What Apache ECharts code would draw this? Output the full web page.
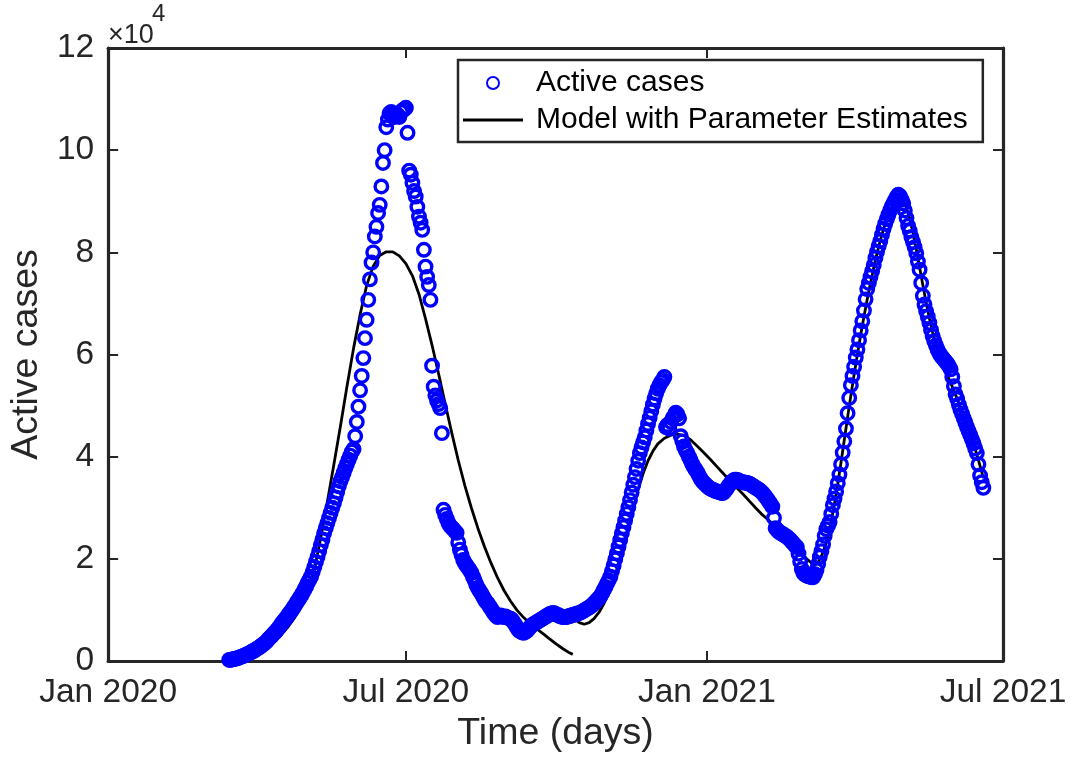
<!DOCTYPE html>
<html>
<head>
<meta charset="utf-8">
<script src="https://cdn.jsdelivr.net/npm/echarts@6/dist/echarts.min.js"></script>
<style>
  html, body { margin: 0; padding: 0; background: #fff; }
  #chart { width: 1081px; height: 761px; }
</style>
</head>
<body>
<div id="chart"></div>
<script>
// ---------------- data ----------------
// x positions are days counted from 2020-01-01
const originDate = '2020-01-01';
const tickDates = ['2020-01-01', '2020-07-01', '2021-01-01', '2021-07-01'];
const tickLabels = ['Jan 2020', 'Jul 2020', 'Jan 2021', 'Jul 2021'];
const axisEndDate = '2021-07-01';

// daily observed active cases, first value on 2020-03-15
const activeStartDate = '2020-03-15';
const activeCases = [
  200, 250, 300, 400, 450, 550, 650, 800, 900, 1050,
  1200, 1350, 1500, 1650, 1850, 2000, 2200, 2400, 2600, 2800,
  3100, 3300, 3600, 3900, 4300, 4600, 4900, 5300, 5600, 6000,
  6400, 6800, 7300, 7700, 8100, 8500, 9000, 9400, 9800, 10300,
  10800, 11300, 11800, 12300, 12800, 13400, 14000, 14600, 15300, 15900,
  16500, 17400, 18400, 19400, 20400, 21500, 22700, 23800, 25000, 26000,
  27000, 28000, 29000, 30000, 30900, 32000, 33100, 34200, 35200, 36000,
  36900, 37800, 38600, 39400, 40200, 41000, 41500, 44000, 46800, 49800,
  53000, 55800, 59300, 63200, 66800, 70700, 74700, 78000, 80000, 83100,
  85000, 87700, 89300, 92900, 97500, 100000, 104500, 106000, 107200, 107500,
  107000, 106500, 107000, 106900, 106500, 107500, 107800, 108000, 108300, 103400,
  96000, 95200, 93600, 92000, 90900, 88900, 87000, 85800, 84400, 80500,
  77200, 75200, 73600, 70700, 57800, 53700, 52000, 51000, 50300, 49500,
  44600, 29600, 28600, 27800, 27000, 26500, 26100, 25800, 25400, 25100,
  23200, 21800, 20800, 19800, 19200, 18700, 18300, 17800, 17300, 16500,
  15800, 15000, 14300, 13800, 13300, 12700, 12100, 11600, 11300, 10800,
  10300, 9800, 9300, 8900, 8600, 8800, 8900, 8700, 8600, 8700,
  8500, 8400, 8300, 8000, 7500, 7000, 6500, 6000, 5800, 5600,
  5500, 5700, 5900, 6300, 6700, 7000, 7200, 7400, 7600, 7800,
  8000, 8200, 8400, 8600, 8800, 9000, 9200, 9300, 9400, 9300,
  9100, 9000, 8800, 8700, 8600, 8600, 8600, 8700, 8800, 8900,
  9000, 9100, 9200, 9300, 9400, 9500, 9700, 9900, 10100, 10300,
  10500, 10700, 11000, 11300, 11600, 12000, 12300, 12700, 13300, 13900,
  14500, 15200, 15800, 16500, 17600, 18700, 19900, 21100, 22400, 23700,
  25000, 26200, 27500, 28800, 30100, 31500, 33000, 34500, 36000, 37600,
  39200, 40700, 41800, 42800, 43800, 45100, 46400, 47600, 48900, 50200,
  51400, 52400, 53300, 54000, 54600, 55000, 55600, 45800, 46200, 45500,
  46800, 47500, 48000, 48600, 48300, 47500, 44000, 43000, 42000, 41300,
  40700, 40000, 39300, 38600, 38000, 37500, 37000, 36400, 35800, 35300,
  34900, 34600, 34300, 34000, 33800, 33600, 33500, 33300, 33200, 33100,
  33000, 32900, 32900, 33300, 33700, 34200, 34600, 35000, 35300, 35500,
  35500, 35400, 35200, 35100, 35000, 34900, 34900, 34800, 34700, 34500,
  34300, 34100, 33900, 33700, 33500, 33200, 32900, 32500, 32100, 31700,
  31200, 30700, 30200, 28000, 26000, 25600, 25300, 25100, 24900, 24700,
  24500, 24300, 24000, 23700, 23300, 23000, 22600, 22300, 21000, 19500,
  18000, 17200, 16900, 16700, 16600, 16500, 16400, 16400, 17000, 17800,
  19000, 20400, 21500, 22800, 24500, 25800, 26500, 27200, 28800, 30500,
  31800, 33200, 34800, 36500, 38500, 40800, 43000, 45500, 48500, 51500,
  54000, 55800, 57600, 59400, 61000, 62800, 64700, 66500, 68600, 70800,
  72800, 74000, 75200, 76300, 77500, 78900, 80100, 81200, 82200, 83400,
  84600, 85600, 86500, 87400, 88200, 89000, 89600, 90200, 90800, 91300,
  91000, 90300, 89600, 88200, 86700, 85200, 84200, 83000, 82000, 81000,
  79800, 78200, 76600, 74000, 71500, 69800, 68500, 67400, 66200, 64800,
  63600, 62600, 61800, 61000, 60300, 59800, 59400, 59000, 58600, 58200,
  57700, 57100, 55600, 53800, 52200, 51300, 50200, 49200, 48400, 47500,
  46700, 45800, 45000, 44200, 43400, 42600, 41600, 40700, 38500, 36300,
  35000, 33900
];

// fitted model, first wave (days since 2020-01-01 and value)
const modelDays1 = [74, 78, 82, 86, 90, 94, 98, 102, 106, 110, 114, 118, 122, 126, 130, 134, 138, 142, 146, 150, 154, 158, 162, 166, 170, 174, 178, 182, 186, 190, 194, 198, 202, 206, 210, 214, 218, 222, 226, 230, 234, 238, 242, 246, 250, 254, 258, 262, 266, 270, 274, 278, 282, 284];
const modelValues1 = [200, 400, 700, 1000, 1500, 2100, 2900, 3900, 5200, 6700, 8500, 10800, 13800, 17800, 24200, 31200, 38500, 46000, 53800, 61200, 67800, 73500, 77300, 79400, 80100, 80100, 79300, 77800, 75400, 71800, 67000, 61800, 56200, 50400, 44700, 39300, 34400, 30000, 26000, 22400, 19200, 16300, 13800, 11700, 9900, 8500, 7300, 6300, 5300, 4300, 3300, 2400, 1600, 1300];

// fitted model, second and third waves
const modelDays2 = [286, 288, 291, 294, 297, 300, 303, 306, 309, 312, 315, 318, 321, 324, 327, 330, 333, 336, 340, 344, 348, 352, 356, 360, 364, 368, 372, 376, 380, 384, 388, 392, 396, 400, 404, 408, 412, 416, 420, 424, 428, 432, 434, 436, 438, 440, 442, 444, 446, 448, 450, 452, 454, 456, 458, 460, 462, 464, 466, 468, 470, 472, 474, 476, 478, 480, 482, 484, 486, 488, 490, 492, 494, 496, 498, 500, 502, 504, 506, 508, 510, 512, 514, 516, 518, 520, 522, 524, 526, 528, 530, 532, 534, 535];
const modelValues2 = [8000, 7500, 7200, 7500, 8300, 9500, 11200, 13300, 15900, 19000, 22500, 26200, 30000, 33600, 36700, 39200, 41100, 42500, 43600, 44200, 44400, 44100, 43300, 42100, 40800, 39500, 38100, 36700, 35300, 34000, 32700, 31300, 29900, 28600, 27500, 26300, 25000, 23600, 22300, 21000, 19700, 18700, 19300, 20500, 22200, 24500, 27400, 30800, 34700, 38900, 43300, 47700, 52000, 56100, 60000, 63800, 67400, 70800, 74000, 77000, 79800, 82300, 84600, 86500, 88100, 89400, 90300, 90600, 90200, 88800, 86600, 83800, 80600, 77100, 73600, 70200, 67100, 64300, 61900, 59900, 58200, 56700, 55200, 53700, 52100, 50500, 48800, 47100, 45300, 43500, 41500, 39300, 37000, 35800];

// ---------------- build ----------------
const DAY = 86400000;
const dayOf = s => Math.round((Date.parse(s) - Date.parse(originDate)) / DAY);
const tickDays = tickDates.map(dayOf);
const startDay = dayOf(activeStartDate);
const activeData = activeCases.map((v, i) => [startDay + i, v]);
const model1 = modelDays1.map((d, i) => [d, modelValues1[i]]);
const model2 = modelDays2.map((d, i) => [d, modelValues2[i]]);

const FONT = "'Liberation Sans', Arial, Helvetica, sans-serif";
const AX = '#262626';
const MODEL_NAME = 'Model with Parameter Estimates';

const chart = echarts.init(document.getElementById('chart'), null, { renderer: 'canvas' });

const xBase = {
  type: 'value',
  min: dayOf(originDate),
  max: dayOf(axisEndDate),
  splitLine: { show: false },
  axisLine: { show: true, onZero: false, lineStyle: { color: AX, width: 3.2 } },
  axisTick: { show: true, inside: true, length: 10, lineStyle: { color: AX, width: 2 }, customValues: tickDays }
};
const yBase = {
  type: 'value',
  min: 0,
  max: 120000,
  interval: 20000,
  splitLine: { show: false },
  axisLine: { show: true, onZero: false, lineStyle: { color: AX, width: 3.2 } },
  axisTick: { show: true, inside: true, length: 10, lineStyle: { color: AX, width: 2 } }
};

chart.setOption({
  animation: false,
  backgroundColor: '#ffffff',
  grid: { left: 107, right: 78, top: 48, bottom: 100, containLabel: false },
  xAxis: [
    Object.assign({}, xBase, {
      position: 'bottom',
      name: 'Time (days)',
      nameLocation: 'middle',
      nameGap: 50,
      nameTextStyle: { fontFamily: FONT, fontSize: 37.5, color: AX },
      axisLabel: {
        show: true, customValues: tickDays, margin: 15,
        fontFamily: FONT, fontSize: 33.5, color: AX,
        formatter: v => tickLabels[tickDays.indexOf(Math.round(v))] || ''
      }
    }),
    Object.assign({}, xBase, { position: 'top', axisLabel: { show: false } })
  ],
  yAxis: [
    Object.assign({}, yBase, {
      position: 'left',
      name: 'Active cases',
      nameLocation: 'middle',
      nameRotate: 90,
      nameGap: 47,
      nameTextStyle: { fontFamily: FONT, fontSize: 37.5, color: AX },
      axisLabel: {
        show: true, margin: 14, fontFamily: FONT, fontSize: 33.5, color: AX,
        formatter: v => String(v / 10000)
      }
    }),
    Object.assign({}, yBase, { position: 'right', axisLabel: { show: false } })
  ],
  legend: {
    orient: 'vertical',
    left: 458,
    top: 60,
    itemWidth: 60,
    itemHeight: 12,
    itemGap: 7,
    padding: [8, 15, 7, 5],
    borderColor: AX,
    borderWidth: 2.5,
    backgroundColor: '#ffffff',
    selectedMode: false,
    symbolKeepAspect: true,
    textStyle: { fontFamily: FONT, fontSize: 30, color: '#000', padding: [0, 0, 0, 8] },
    data: [
      { name: 'Active cases', icon: 'circle' },
      { name: MODEL_NAME, icon: 'path://M0,0L60,0L60,2.8L0,2.8Z', itemStyle: { color: '#000', borderWidth: 0 } }
    ]
  },
  graphic: [
    { type: 'text', left: 108, top: 22, style: { text: '×10', fontFamily: FONT, fontSize: 27, fill: AX } },
    { type: 'text', left: 152, top: 2, style: { text: '4', fontFamily: FONT, fontSize: 24, fill: AX } }
  ],
  series: [
    {
      name: MODEL_NAME,
      type: 'line',
      data: model1,
      symbol: 'none',
      showSymbol: false,
      smooth: false,
      z: 2,
      lineStyle: { color: '#000', width: 2.8 },
      itemStyle: { color: '#000' }
    },
    {
      name: MODEL_NAME,
      type: 'line',
      data: model2,
      symbol: 'none',
      showSymbol: false,
      smooth: false,
      z: 2,
      lineStyle: { color: '#000', width: 2.8 },
      itemStyle: { color: '#000' }
    },
    {
      name: 'Active cases',
      type: 'scatter',
      data: activeData,
      symbol: 'circle',
      symbolSize: 12.5,
      z: 3,
      itemStyle: { color: 'none', borderColor: '#0000ff', borderWidth: 3.4, opacity: 1 }
    }
  ]
});
</script>
</body>
</html>
